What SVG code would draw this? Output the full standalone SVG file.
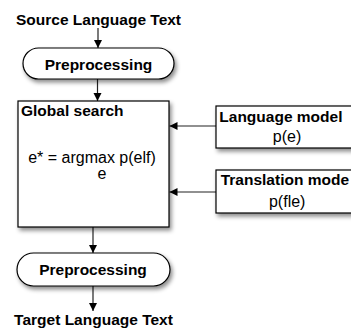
<svg xmlns="http://www.w3.org/2000/svg" width="351" height="328" viewBox="0 0 351 328">
<defs>
<filter id="sh" x="-20%" y="-20%" width="140%" height="160%">
<feDropShadow dx="2" dy="3" stdDeviation="2" flood-color="#000" flood-opacity="0.45"/>
</filter>
<marker id="ah" viewBox="0 0 8 10" refX="8" refY="5" markerWidth="8" markerHeight="10" markerUnits="userSpaceOnUse" orient="auto">
<path d="M0,1 L8,5 L0,9 Z" fill="#000"/>
</marker>
</defs>
<style>
.shape{fill:#fff;stroke:#000;stroke-width:1.2;filter:url(#sh)}
.b{font-family:"Liberation Sans",Arial,sans-serif;font-weight:bold;font-size:15.5px;fill:#000}
.r{font-family:"Liberation Sans",Arial,sans-serif;font-size:16px;fill:#000}
.c{text-anchor:middle}
.edge{stroke:#222;stroke-width:1.2;fill:none;marker-end:url(#ah)}
</style>
<g id="connectors">
<line class="edge" x1="98" y1="28" x2="98" y2="48"/>
<line class="edge" x1="97.5" y1="79" x2="97.5" y2="101"/>
<line class="edge" x1="216" y1="126" x2="169.5" y2="126"/>
<line class="edge" x1="216" y1="192" x2="169.5" y2="192"/>
<line class="edge" x1="93" y1="227" x2="93" y2="253"/>
<line class="edge" x1="93" y1="286" x2="93" y2="311"/>
</g>
<g id="source">
<text class="b c" x="98.5" y="25">Source Language Text</text>
</g>
<g id="preprocessing-top">
<rect class="shape" x="23" y="48" width="151" height="31" rx="15.5" ry="15.5"/>
<text class="b c" x="98.5" y="69.5">Preprocessing</text>
</g>
<g id="global-search">
<rect class="shape" x="18" y="101" width="151" height="126"/>
<text class="b" x="21" y="116">Global search</text>
<text class="r c" x="92" y="163">e* = argmax p(elf)</text>
<text class="r c" x="102" y="179">e</text>
</g>
<g id="language-model">
<rect class="shape" x="216" y="106" width="145" height="42"/>
<text class="b" x="219.3" y="121.7">Language model</text>
<text class="r c" x="287" y="142">p(e)</text>
</g>
<g id="translation-model">
<rect class="shape" x="216" y="170" width="145" height="43"/>
<text class="b" x="220.7" y="185">Translation mode</text>
<text class="r c" x="287.2" y="206.5">p(fle)</text>
</g>
<g id="preprocessing-bottom">
<rect class="shape" x="17" y="253" width="153" height="33" rx="16.5" ry="16.5"/>
<text class="b c" x="93" y="275">Preprocessing</text>
</g>
<g id="target">
<text class="b c" x="93.5" y="325">Target Language Text</text>
</g>
</svg>
